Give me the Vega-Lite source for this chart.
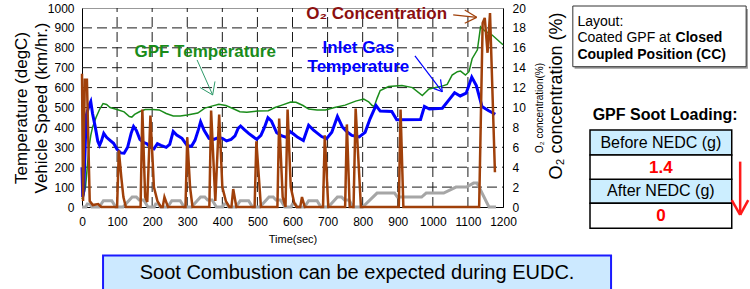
{
  "$schema": "https://vega.github.io/schema/vega-lite/v6.json",
  "width": 421,
  "height": 199,
  "autosize": {"type": "none"},
  "padding": {"left": 82, "top": 8, "right": 247, "bottom": 82},
  "background": "white",
  "config": {
    "view": {"stroke": "#999999", "strokeWidth": 1},
    "font": "Liberation Sans, DejaVu Sans, sans-serif",
    "axis": {"labelColor": "#000", "titleColor": "#000", "domainColor": "#000", "domainWidth": 1}
  },
  "datasets": {
    "gridLines": [
      {"t":100,"v":0,"t2":100,"v2":1000},{"t":200,"v":0,"t2":200,"v2":1000},{"t":300,"v":0,"t2":300,"v2":1000},{"t":400,"v":0,"t2":400,"v2":1000},{"t":500,"v":0,"t2":500,"v2":1000},{"t":600,"v":0,"t2":600,"v2":1000},{"t":700,"v":0,"t2":700,"v2":1000},{"t":800,"v":0,"t2":800,"v2":1000},{"t":900,"v":0,"t2":900,"v2":1000},{"t":1000,"v":0,"t2":1000,"v2":1000},{"t":1100,"v":0,"t2":1100,"v2":1000},
      {"t":0,"v":100,"t2":1200,"v2":100},{"t":0,"v":200,"t2":1200,"v2":200},{"t":0,"v":300,"t2":1200,"v2":300},{"t":0,"v":400,"t2":1200,"v2":400},{"t":0,"v":500,"t2":1200,"v2":500},{"t":0,"v":600,"t2":1200,"v2":600},{"t":0,"v":700,"t2":1200,"v2":700},{"t":0,"v":800,"t2":1200,"v2":800},{"t":0,"v":900,"t2":1200,"v2":900}
    ],
    "speed": [
      {"t":0,"v":0},{"t":11,"v":0},{"t":15,"v":15},{"t":23,"v":15},{"t":28,"v":0},{"t":49,"v":0},{"t":61,"v":32},{"t":85,"v":32},{"t":96,"v":0},{"t":117,"v":0},{"t":143,"v":50},{"t":155,"v":50},{"t":163,"v":35},{"t":176,"v":35},{"t":188,"v":0},
      {"t":195,"v":0},{"t":206,"v":0},{"t":210,"v":15},{"t":218,"v":15},{"t":223,"v":0},{"t":244,"v":0},{"t":256,"v":32},{"t":280,"v":32},{"t":291,"v":0},{"t":312,"v":0},{"t":338,"v":50},{"t":350,"v":50},{"t":358,"v":35},{"t":371,"v":35},{"t":383,"v":0},
      {"t":390,"v":0},{"t":401,"v":0},{"t":405,"v":15},{"t":413,"v":15},{"t":418,"v":0},{"t":439,"v":0},{"t":451,"v":32},{"t":475,"v":32},{"t":486,"v":0},{"t":507,"v":0},{"t":533,"v":50},{"t":545,"v":50},{"t":553,"v":35},{"t":566,"v":35},{"t":578,"v":0},
      {"t":585,"v":0},{"t":596,"v":0},{"t":600,"v":15},{"t":608,"v":15},{"t":613,"v":0},{"t":634,"v":0},{"t":646,"v":32},{"t":670,"v":32},{"t":681,"v":0},{"t":702,"v":0},{"t":728,"v":50},{"t":740,"v":50},{"t":748,"v":35},{"t":761,"v":35},{"t":773,"v":0},
      {"t":780,"v":0},{"t":800,"v":0},{"t":841,"v":70},{"t":891,"v":70},{"t":899,"v":50},{"t":968,"v":50},{"t":981,"v":70},{"t":1031,"v":70},{"t":1066,"v":100},{"t":1096,"v":100},{"t":1116,"v":120},{"t":1126,"v":120},{"t":1160,"v":0},{"t":1180,"v":0}
    ],
    "gpf": [
      {"t":0,"v":40},{"t":5,"v":60},{"t":10,"v":100},{"t":15,"v":200},{"t":20,"v":300},{"t":25,"v":360},{"t":30,"v":400},{"t":40,"v":450},{"t":50,"v":490},{"t":60,"v":520},{"t":70,"v":515},{"t":80,"v":500},{"t":100,"v":490},{"t":120,"v":478},{"t":135,"v":455},{"t":142,"v":452},{"t":150,"v":465},{"t":165,"v":480},{"t":180,"v":490},{"t":200,"v":490},{"t":220,"v":488},{"t":240,"v":470},{"t":260,"v":457},{"t":280,"v":457},{"t":300,"v":462},{"t":330,"v":472},{"t":350,"v":497},{"t":370,"v":507},{"t":390,"v":516},{"t":410,"v":510},{"t":430,"v":495},{"t":450,"v":479},{"t":470,"v":476},{"t":500,"v":482},{"t":531,"v":484},{"t":550,"v":500},{"t":570,"v":512},{"t":595,"v":528},{"t":610,"v":526},{"t":630,"v":510},{"t":646,"v":492},{"t":670,"v":488},{"t":694,"v":487},{"t":720,"v":500},{"t":750,"v":512},{"t":780,"v":532},{"t":803,"v":542},{"t":817,"v":529},{"t":827,"v":510},{"t":833,"v":505},{"t":841,"v":546},{"t":850,"v":585},{"t":874,"v":605},{"t":912,"v":610},{"t":942,"v":600},{"t":970,"v":560},{"t":989,"v":593},{"t":1022,"v":605},{"t":1041,"v":616},{"t":1055,"v":663},{"t":1070,"v":680},{"t":1079,"v":683},{"t":1093,"v":663},{"t":1103,"v":680},{"t":1112,"v":745},{"t":1127,"v":790},{"t":1136,"v":905},{"t":1150,"v":882},{"t":1169,"v":864},{"t":1200,"v":815}
    ],
    "inlet": [
      {"t":0,"v":200},{"t":2,"v":50},{"t":5,"v":80},{"t":12,"v":460},{"t":20,"v":510},{"t":25,"v":530},{"t":30,"v":470},{"t":38,"v":400},{"t":45,"v":330},{"t":50,"v":310},{"t":55,"v":330},{"t":62,"v":370},{"t":70,"v":350},{"t":80,"v":335},{"t":90,"v":320},{"t":100,"v":290},{"t":110,"v":272},{"t":120,"v":270},{"t":130,"v":300},{"t":140,"v":370},{"t":147,"v":405},{"t":155,"v":385},{"t":165,"v":340},{"t":175,"v":325},{"t":185,"v":318},{"t":195,"v":300},{"t":205,"v":292},{"t":215,"v":318},{"t":225,"v":310},{"t":240,"v":300},{"t":250,"v":315},{"t":260,"v":380},{"t":270,"v":362},{"t":285,"v":345},{"t":300,"v":308},{"t":312,"v":305},{"t":322,"v":335},{"t":332,"v":390},{"t":338,"v":428},{"t":348,"v":385},{"t":362,"v":345},{"t":375,"v":340},{"t":390,"v":349},{"t":400,"v":345},{"t":412,"v":332},{"t":425,"v":340},{"t":436,"v":357},{"t":445,"v":395},{"t":452,"v":407},{"t":462,"v":390},{"t":475,"v":370},{"t":485,"v":357},{"t":498,"v":340},{"t":510,"v":360},{"t":520,"v":400},{"t":530,"v":449},{"t":540,"v":432},{"t":555,"v":373},{"t":570,"v":357},{"t":583,"v":350},{"t":593,"v":380},{"t":602,"v":368},{"t":615,"v":350},{"t":631,"v":334},{"t":646,"v":411},{"t":660,"v":386},{"t":683,"v":354},{"t":697,"v":343},{"t":712,"v":376},{"t":728,"v":455},{"t":742,"v":402},{"t":754,"v":380},{"t":769,"v":360},{"t":790,"v":352},{"t":807,"v":375},{"t":821,"v":443},{"t":838,"v":510},{"t":850,"v":482},{"t":883,"v":480},{"t":897,"v":438},{"t":965,"v":440},{"t":976,"v":505},{"t":990,"v":492},{"t":1027,"v":496},{"t":1046,"v":538},{"t":1062,"v":574},{"t":1078,"v":558},{"t":1095,"v":572},{"t":1111,"v":652},{"t":1124,"v":610},{"t":1140,"v":505},{"t":1158,"v":485},{"t":1178,"v":466}
    ],
    "o2": [
      {"t":0,"o":13.4},{"t":3,"o":0.6},{"t":8,"o":12.8},{"t":14,"o":12.8},{"t":22,"o":0.6},{"t":31,"o":0.2},{"t":46,"o":0.3},{"t":55,"o":0},{"t":100,"o":0},{"t":105,"o":5.7},{"t":112,"o":3},{"t":118,"o":1},{"t":125,"o":0},{"t":167,"o":0},{"t":172,"o":9.8},{"t":180,"o":1},{"t":186,"o":0.5},{"t":195,"o":9.2},{"t":205,"o":2},{"t":215,"o":0.6},{"t":225,"o":0},{"t":230,"o":0},{"t":235,"o":1},{"t":245,"o":0},{"t":295,"o":0},{"t":300,"o":7},{"t":308,"o":2},{"t":315,"o":0},{"t":363,"o":0},{"t":368,"o":9.7},{"t":380,"o":0.6},{"t":391,"o":9.3},{"t":400,"o":2},{"t":410,"o":0.6},{"t":420,"o":0},{"t":426,"o":0},{"t":431,"o":1.8},{"t":440,"o":0},{"t":492,"o":0},{"t":497,"o":6.6},{"t":510,"o":0},{"t":557,"o":0},{"t":562,"o":8.9},{"t":572,"o":1},{"t":580,"o":0},{"t":586,"o":9.8},{"t":595,"o":2},{"t":605,"o":0.4},{"t":612,"o":0},{"t":622,"o":0},{"t":627,"o":1},{"t":635,"o":0},{"t":687,"o":0},{"t":692,"o":7.2},{"t":702,"o":0},{"t":750,"o":0},{"t":755,"o":8.3},{"t":763,"o":0},{"t":774,"o":0},{"t":780,"o":9.9},{"t":795,"o":0},{"t":903,"o":0},{"t":908,"o":9.8},{"t":916,"o":0},{"t":1132,"o":0},{"t":1142,"o":18.5},{"t":1148,"o":19},{"t":1156,"o":15.5},{"t":1163,"o":19.5},{"t":1177,"o":3.5}
    ],
    "layoutShadow": [{"t":1404,"t2":1898,"v":995,"v2":695}],
    "layoutBox": [{"t":1399,"t2":1893,"v":1010,"v2":705}],
    "tableHead": [{"t":1448,"t2":1852,"v":387,"v2":261},{"t":1448,"t2":1852,"v":139,"v2":19}],
    "tableVal": [{"t":1448,"t2":1852,"v":261,"v2":139},{"t":1448,"t2":1852,"v":19,"v2":-107}],
    "bottomBox": [{"t":60,"t2":1508,"v":-244,"v2":-420}],
    "txtLayoutReg": [{"t":1412,"v":931,"label":"Layout:"},{"t":1412,"v":848,"label":"Coated GPF at"}],
    "txtLayoutBold": [{"t":1692,"v":848,"label":"Closed"},{"t":1412,"v":764,"label":"Coupled Position (CC)"}],
    "txtSootTitle": [{"t":1662,"v":462,"label":"GPF Soot Loading:"}],
    "txtTableHead": [{"t":1650,"v":324,"label":"Before NEDC (g)"},{"t":1650,"v":79,"label":"After NEDC (g)"}],
    "txtTableVal": [{"t":1650,"v":198,"label":"1.4"},{"t":1650,"v":-44,"label":"0"}],
    "txtBottom": [{"t":784,"v":-332,"label":"Soot Combustion can be expected during EUDC."}],
    "txtGpf": [{"t":351,"v":780,"label":"GPF Temperature"}],
    "txtInlet": [{"t":788,"v":800,"label":"Inlet Gas"},{"t":788,"v":705,"label":"Temperature"}],
    "txtO2": [{"t":840,"v":968,"label":"O₂ Concentration"}],
    "txtRightTitle": [{"t":1354,"v":558,"label":"O₂ concentration (%)"}],
    "arrowGreen": [{"t":328,"v":739,"t2":372.5,"v2":563},{"t":336,"v":601,"t2":372.5,"v2":563},{"t":379,"v":631,"t2":372.5,"v2":563}],
    "arrowBlue": [{"t":949,"v":759,"t2":1027,"v2":579},{"t":1022,"v":641,"t2":1027,"v2":579},{"t":1002,"v":596,"t2":1027,"v2":579}],
    "arrowBrown": [{"t":1058,"v":965,"t2":1125,"v2":953},{"t":1091,"v":990,"t2":1125,"v2":953},{"t":1091,"v":923,"t2":1125,"v2":953}],
    "arrowRed": [{"t":1876,"v":228,"t2":1876,"v2":-40},{"t":1852,"v":35,"t2":1876,"v2":-40},{"t":1899,"v":35,"t2":1876,"v2":-40}]
  },
  "layer": [
    {
      "encoding": {
        "x": {"field": "t", "type": "quantitative", "scale": {"domain": [0, 1200], "nice": false},
          "axis": {"title": "Time(sec)", "values": [0,100,200,300,400,500,600,700,800,900,1000,1100,1200], "format": "d", "grid": false,
            "ticks": false, "labelFontSize": 12, "labelPadding": 9, "labelFlush": false, "labelOverlap": false, "titleFontSize": 11, "titleFontWeight": "normal", "titlePadding": 6}},
        "y": {"field": "v", "type": "quantitative", "scale": {"domain": [0, 1000], "nice": false},
          "axis": {"title": ["Temperature (degC)", "Vehicle Speed (km/hr.)"], "values": [0,100,200,300,400,500,600,700,800,900,1000], "format": "d", "grid": false,
            "ticks": false, "labelFontSize": 12, "labelPadding": 8, "labelFlush": false, "labelOverlap": false, "titleFontSize": 17, "titleFontWeight": "normal", "titleLineHeight": 20, "titlePadding": -3}}
      },
      "layer": [
        {"data": {"name": "gridLines"}, "mark": {"type": "rule", "color": "#1a1a1a", "strokeWidth": 1, "strokeDash": [10, 5]}, "encoding": {"x2": {"field": "t2"}, "y2": {"field": "v2"}}},
        {"data": {"name": "speed"}, "mark": {"type": "line", "color": "#a6a6a6", "strokeWidth": 3}},
        {"data": {"name": "gpf"}, "mark": {"type": "line", "color": "#1a8c1a", "strokeWidth": 1.5}},
        {"data": {"name": "inlet"}, "mark": {"type": "line", "color": "#0000ff", "strokeWidth": 3}},
        {"data": {"name": "layoutShadow"}, "mark": {"type": "rect", "fill": "#9a9a9a"}, "encoding": {"x2": {"field": "t2"}, "y2": {"field": "v2"}}},
        {"data": {"name": "layoutBox"}, "mark": {"type": "rect", "fill": "#ffffff", "stroke": "#333333", "strokeWidth": 1}, "encoding": {"x2": {"field": "t2"}, "y2": {"field": "v2"}}},
        {"data": {"name": "tableHead"}, "mark": {"type": "rect", "fill": "#cceeff", "stroke": "#000000", "strokeWidth": 1.5}, "encoding": {"x2": {"field": "t2"}, "y2": {"field": "v2"}}},
        {"data": {"name": "tableVal"}, "mark": {"type": "rect", "fill": "#ffffff", "stroke": "#000000", "strokeWidth": 1.5}, "encoding": {"x2": {"field": "t2"}, "y2": {"field": "v2"}}},
        {"data": {"name": "bottomBox"}, "mark": {"type": "rect", "fill": "#cce9ff", "stroke": "#1a1aff", "strokeWidth": 2}, "encoding": {"x2": {"field": "t2"}, "y2": {"field": "v2"}}},
        {"data": {"name": "txtLayoutReg"}, "mark": {"type": "text", "align": "left", "baseline": "middle", "fontSize": 14, "color": "#000"}, "encoding": {"text": {"field": "label"}}},
        {"data": {"name": "txtLayoutBold"}, "mark": {"type": "text", "align": "left", "baseline": "middle", "fontSize": 14, "fontWeight": "bold", "color": "#000"}, "encoding": {"text": {"field": "label"}}},
        {"data": {"name": "txtSootTitle"}, "mark": {"type": "text", "align": "center", "baseline": "middle", "fontSize": 16, "fontWeight": "bold", "color": "#000"}, "encoding": {"text": {"field": "label"}}},
        {"data": {"name": "txtTableHead"}, "mark": {"type": "text", "align": "center", "baseline": "middle", "fontSize": 16, "color": "#000"}, "encoding": {"text": {"field": "label"}}},
        {"data": {"name": "txtTableVal"}, "mark": {"type": "text", "align": "center", "baseline": "middle", "fontSize": 17, "fontWeight": "bold", "color": "#ff0000"}, "encoding": {"text": {"field": "label"}}},
        {"data": {"name": "txtBottom"}, "mark": {"type": "text", "align": "center", "baseline": "middle", "fontSize": 20, "color": "#000"}, "encoding": {"text": {"field": "label"}}},
        {"data": {"name": "txtGpf"}, "mark": {"type": "text", "align": "center", "baseline": "middle", "fontSize": 17, "fontWeight": "bold", "color": "#1a8c1a"}, "encoding": {"text": {"field": "label"}}},
        {"data": {"name": "txtInlet"}, "mark": {"type": "text", "align": "center", "baseline": "middle", "fontSize": 17, "fontWeight": "bold", "color": "#0000ff"}, "encoding": {"text": {"field": "label"}}},
        {"data": {"name": "txtO2"}, "mark": {"type": "text", "align": "center", "baseline": "middle", "fontSize": 17, "fontWeight": "bold", "color": "#8b1010"}, "encoding": {"text": {"field": "label"}}},
        {"data": {"name": "txtRightTitle"}, "mark": {"type": "text", "align": "center", "baseline": "middle", "fontSize": 18, "angle": 270, "color": "#000"}, "encoding": {"text": {"field": "label"}}},
        {"data": {"name": "arrowGreen"}, "mark": {"type": "rule", "color": "#2e9a6a", "strokeWidth": 1}, "encoding": {"x2": {"field": "t2"}, "y2": {"field": "v2"}}},
        {"data": {"name": "arrowBlue"}, "mark": {"type": "rule", "color": "#0000ff", "strokeWidth": 1.2}, "encoding": {"x2": {"field": "t2"}, "y2": {"field": "v2"}}},
        {"data": {"name": "arrowBrown"}, "mark": {"type": "rule", "color": "#a0400a", "strokeWidth": 1.2}, "encoding": {"x2": {"field": "t2"}, "y2": {"field": "v2"}}},
        {"data": {"name": "arrowRed"}, "mark": {"type": "rule", "color": "#ff1a1a", "strokeWidth": 2.5}, "encoding": {"x2": {"field": "t2"}, "y2": {"field": "v2"}}}
      ]
    },
    {
      "data": {"name": "o2"},
      "mark": {"type": "line", "color": "#a0400a", "strokeWidth": 2.5},
      "encoding": {
        "x": {"field": "t", "type": "quantitative", "scale": {"domain": [0, 1200], "nice": false},
          "axis": {"title": "Time(sec)", "values": [0,100,200,300,400,500,600,700,800,900,1000,1100,1200], "format": "d", "grid": false,
            "ticks": false, "labelFontSize": 12, "labelPadding": 9, "labelFlush": false, "labelOverlap": false, "titleFontSize": 11, "titleFontWeight": "normal", "titlePadding": 6}},
        "y": {"field": "o", "type": "quantitative", "scale": {"domain": [0, 20], "nice": false},
          "axis": {"orient": "right", "title": "O₂ concentration(%)", "values": [0,2,4,6,8,10,12,14,16,18,20], "format": "d", "grid": false, "ticks": false, "labelFontSize": 12, "labelPadding": 9, "labelFlush": false, "labelOverlap": false, "titleFontSize": 10, "titleFontWeight": "normal", "titleAngle": 270, "titleBaseline": "top", "titlePadding": 9}}
      }
    }
  ],
  "resolve": {"scale": {"y": "independent"}}
}
